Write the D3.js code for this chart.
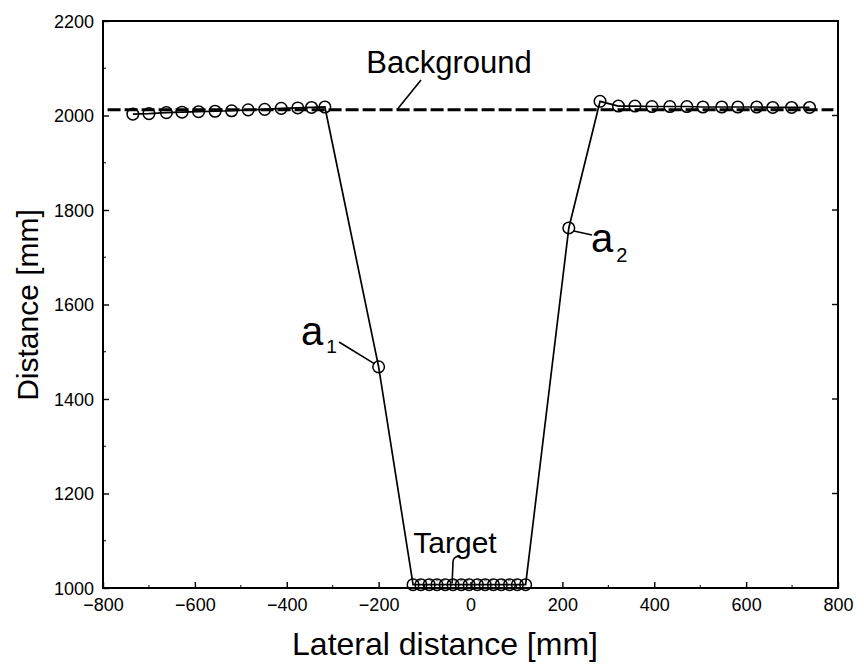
<!DOCTYPE html>
<html><head><meta charset="utf-8">
<script src="https://cdn.jsdelivr.net/npm/d3@7"></script>
<style>body{margin:0;background:#fff}svg{display:block}text{font-family:"Liberation Sans",Arial,sans-serif;fill:#000}</style>
</head><body>
<svg id="c" width="864" height="664"></svg>
<script>
// ---- data ----
const leftX  = [-735,-700,-662,-628,-592,-556,-520,-484,-448,-412,-376,-346,-317];
const leftY  = [2003,2004,2006,2007,2008,2009,2010,2012,2013,2015,2016,2017,2018];
const a1 = {x:-200, y:1468};
const targetX = [-125,-108,-90,-73,-55,-38,-20,-3,15,32,50,67,85,102,120];
const targetY = [1007,1007,1007,1007,1007,1007,1007,1007,1007,1007,1007,1007,1007,1007,1007];
const a2 = {x:214, y:1762};
const rightX = [282,322,358,395,434,471,506,547,582,623,658,699,738];
const rightY = [2030,2020,2020,2019,2019,2019,2018,2018,2018,2018,2017,2017,2017];
const backgroundY = 2012;
const xTicks = [-800,-600,-400,-200,0,200,400,600,800];
const yTicks = [1000,1200,1400,1600,1800,2000,2200];

const pts = [];
leftX.forEach((x,i)=>pts.push({x, y:leftY[i]}));
pts.push(a1);
targetX.forEach((x,i)=>pts.push({x, y:targetY[i]}));
pts.push(a2);
rightX.forEach((x,i)=>pts.push({x, y:rightY[i]}));

// ---- layout ----
const L=103, R=838, T=21, B=588;
const svg = d3.select("#c");
const x = d3.scaleLinear().domain([-800,800]).range([L,R]);
const y = d3.scaleLinear().domain([1000,2200]).range([B,T]);

// left axis (inward ticks)
const gy = svg.append("g").attr("transform",`translate(${L},0)`)
  .call(d3.axisLeft(y).tickValues(yTicks).tickSize(-6).tickPadding(9).tickFormat(d3.format("d")));
gy.select(".domain").remove();
gy.selectAll("text").style("font-size","18px").attr("dy","0.35em");
gy.selectAll("line").attr("stroke-width",1.4);
// minor left ticks
svg.append("g").selectAll("line").data(d3.range(1100,2200,200)).join("line")
  .attr("x1",L).attr("x2",L+3).attr("y1",d=>y(d)).attr("y2",d=>y(d)).attr("stroke","#000");

// bottom axis (inward ticks)
const gx = svg.append("g").attr("transform",`translate(0,${B})`)
  .call(d3.axisBottom(x).tickValues(xTicks).tickSize(-6).tickPadding(10).tickFormat(d3.format("d")));
gx.select(".domain").remove();
gx.selectAll("text").style("font-size","18px");
gx.selectAll("line").attr("stroke-width",1.4);
// minor bottom ticks
svg.append("g").selectAll("line").data(d3.range(-700,800,200)).join("line")
  .attr("x1",d=>x(d)).attr("x2",d=>x(d)).attr("y1",B).attr("y2",B-3).attr("stroke","#000");

// right axis ticks (inward)
svg.append("g").selectAll("line").data(yTicks).join("line")
  .attr("x1",R).attr("x2",R-6).attr("y1",d=>y(d)).attr("y2",d=>y(d)).attr("stroke","#000").attr("stroke-width",1.4);

// frame
svg.append("rect").attr("x",L).attr("y",T).attr("width",R-L).attr("height",B-T)
  .attr("fill","none").attr("stroke","#000").attr("stroke-width",2);

// background dashed line
svg.append("line").attr("x1",x(-790)).attr("x2",x(790)).attr("y1",y(backgroundY)).attr("y2",y(backgroundY))
  .attr("stroke","#000").attr("stroke-width",3).attr("stroke-dasharray","13,4");

// target dotted reference
svg.append("line").attr("x1",x(-115)).attr("x2",x(115)).attr("y1",y(1016)).attr("y2",y(1016))
  .attr("stroke","#888").attr("stroke-width",1.5).attr("stroke-dasharray","3,3");

// data line
svg.append("path").datum(pts).attr("fill","none").attr("stroke","#000").attr("stroke-width",1.7)
  .attr("d", d3.line().x(d=>x(d.x)).y(d=>y(d.y)));

// circles
svg.append("g").selectAll("circle").data(pts).join("circle")
  .attr("cx",d=>x(d.x)).attr("cy",d=>y(d.y)).attr("r",5.8)
  .attr("fill","none").attr("stroke","#000").attr("stroke-width",1.5);

// annotations
svg.append("text").attr("x",449).attr("y",73).attr("text-anchor","middle").style("font-size","31px").text("Background");
svg.append("line").attr("x1",421).attr("y1",80).attr("x2",397).attr("y2",y(backgroundY)).attr("stroke","#000").attr("stroke-width",1.6);

svg.append("text").attr("x",455).attr("y",553).attr("text-anchor","middle").style("font-size","30px").text("Target");
svg.append("path").attr("d",`M459,556 Q453,557 453,562 L${x(-40)},${y(1010)}`).attr("fill","none").attr("stroke","#000").attr("stroke-width",1.6);

const t1 = svg.append("text").attr("x",301).attr("y",345).style("font-size","40px");
t1.append("tspan").text("a");
t1.append("tspan").attr("dx",3).attr("dy",8).style("font-size","19px").text("1");
svg.append("line").attr("x1",339).attr("y1",342).attr("x2",x(a1.x)-4).attr("y2",y(a1.y)-3).attr("stroke","#000").attr("stroke-width",1.6);

const t2 = svg.append("text").attr("x",591).attr("y",252).style("font-size","40px");
t2.append("tspan").text("a");
t2.append("tspan").attr("dx",3).attr("dy",10).style("font-size","20px").text("2");
svg.append("line").attr("x1",x(a2.x)+5).attr("y1",y(a2.y)+3).attr("x2",592).attr("y2",235).attr("stroke","#000").attr("stroke-width",1.6);

// axis titles
svg.append("text").attr("transform","translate(38,305) rotate(-90)").attr("text-anchor","middle").style("font-size","30px").text("Distance [mm]");
svg.append("text").attr("x",445).attr("y",655).attr("text-anchor","middle").style("font-size","32px").text("Lateral distance [mm]");
</script>
</body></html>
